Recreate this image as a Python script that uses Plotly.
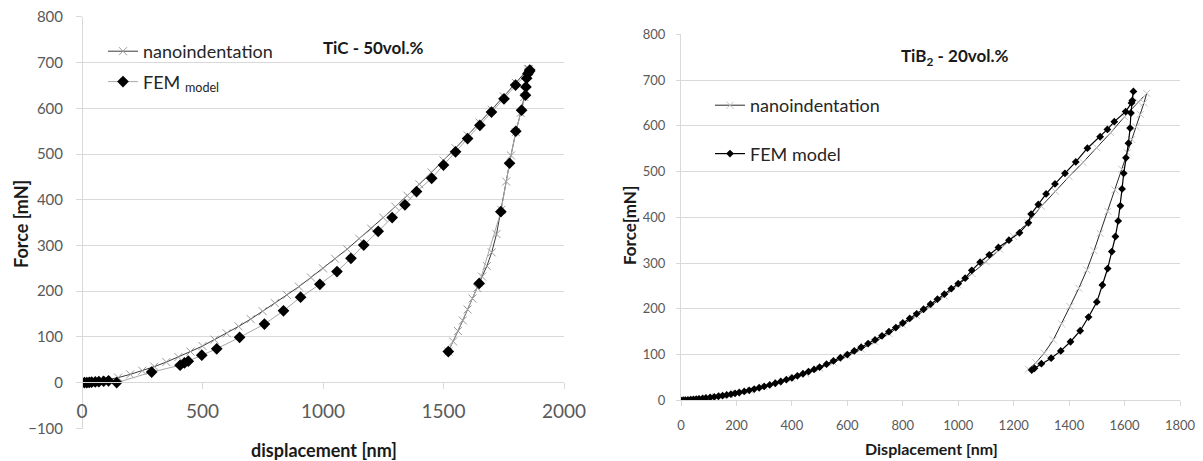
import plotly.graph_objects as go

# ---------------- TiC - 50vol.% (left) ----------------
tic_nano_x = [0, 50, 100, 150, 200, 250, 300, 350, 400, 450, 500, 550, 600, 650, 700, 750, 800,
              850, 900, 950, 1000, 1050, 1100, 1150, 1200, 1250, 1300, 1350, 1400, 1450, 1500,
              1550, 1600, 1650, 1700, 1750, 1800, 1850,
              1855, 1852, 1845, 1835, 1820, 1800, 1780, 1760, 1740, 1720, 1700, 1680, 1660,
              1640, 1620, 1600, 1580, 1560, 1540, 1520]
tic_nano_y = [0, 1.8, 5.7, 11, 18, 26, 35, 45, 56, 68, 80, 94, 108, 123, 139, 156, 174,
              192, 210, 230, 250, 271, 292, 315, 337, 361, 385, 409, 434, 460, 486,
              513, 541, 569, 597, 626, 656, 686,
              686, 680, 655, 625, 590, 548, 497, 440, 378, 325, 285, 255, 232,
              207, 184, 160, 136, 113, 90, 68]

tic_fem_x = [0, 10, 20, 30, 40, 55, 70, 90, 110, 144, 289, 407, 425, 441, 497, 559, 654, 757,
             836, 907, 987, 1058, 1116, 1169, 1229, 1287, 1340, 1388, 1451, 1500, 1550, 1600,
             1651, 1699, 1751, 1799, 1858,
             1857, 1850, 1845, 1842, 1840, 1824, 1800, 1774, 1738, 1648, 1520]
tic_fem_y = [0, 0, 0, 0.5, 1, 1.5, 2, 3, 4, 0, 23, 38, 43, 47, 60, 74, 99, 128,
             157, 187, 215, 243, 272, 301, 331, 361, 389, 418, 447, 476, 505, 534,
             563, 592, 621, 651, 684,
             681, 676, 666, 647, 629, 596, 550, 480, 374, 217, 68]

# ---------------- TiB2 - 20vol.% (right) ----------------
tib_nano_x = [0, 25, 50, 75, 100, 125, 150, 175, 200, 250, 300, 350, 400, 450, 500, 550, 600,
              650, 700, 750, 800, 850, 900, 950, 1000, 1050, 1100, 1150, 1200, 1250, 1300,
              1350, 1400, 1450, 1500, 1550, 1600, 1650, 1680,
              1670, 1657, 1642, 1626, 1610, 1590, 1565, 1540, 1512, 1490, 1464, 1435, 1403,
              1373, 1343, 1310, 1280, 1253]
tib_nano_y = [0, 0.8, 2.2, 3.8, 5.6, 7.8, 10, 12.6, 15.5, 22, 30, 38.5, 47.5, 58, 70, 83, 97,
              112, 128, 146, 165, 185, 206, 228, 252, 277, 303, 330, 358, 388, 424,
              457, 489, 520, 552, 585, 620, 652, 671,
              650, 625, 598, 570, 541, 505, 460, 413, 365, 327, 285, 245, 205,
              167, 132, 103, 82, 68]

tib_fem_x = [0, 8, 16, 25, 35, 45, 55, 65, 78, 90, 105, 120, 135, 150, 165, 180, 195, 210, 228,
             246, 264, 282, 300, 320, 340, 360, 380, 400, 420, 440, 460, 480, 500, 525, 550,
             575, 600, 625, 650, 675, 700, 725, 750, 775, 800, 825, 850, 875, 900, 925, 950,
             975, 1000, 1025, 1049, 1079, 1112, 1145, 1183, 1221, 1253, 1263, 1289, 1317,
             1349, 1385, 1424, 1466, 1512, 1538, 1563, 1604, 1625, 1632,
             1628, 1623, 1620, 1614, 1605, 1597, 1591, 1585, 1577, 1567, 1554, 1539, 1520,
             1500, 1470, 1440, 1405, 1370, 1335, 1300, 1275, 1265]
tib_fem_y = [0, 0.3, 0.6, 1, 1.5, 2, 2.6, 3.2, 4.1, 5, 6.1, 7.4, 8.8, 10.2, 11.8, 13.4, 15.2,
             17, 19.4, 21.9, 24.6, 27.4, 30.3, 33.7, 37.3, 41.1, 45, 49, 53.5, 58, 62.7, 67.5,
             72.5, 79, 86, 93, 100, 108, 116, 124, 132, 141, 150, 159, 169, 179, 189, 199,
             210, 221, 232, 244, 255, 267, 284, 302, 318, 334, 350, 366, 388, 407, 428, 451,
             473, 496, 521, 551, 576, 592, 609, 631, 650, 675,
             655, 628, 595, 562, 530, 496, 462, 425, 392, 358, 325, 288, 252,
             215, 182, 152, 128, 108, 92, 80, 70, 66]

tic_ticks_x = [0, 500, 1000, 1500, 2000]
tic_ticks_y = [-100, 0, 100, 200, 300, 400, 500, 600, 700, 800]
tib_ticks_x = [0, 200, 400, 600, 800, 1000, 1200, 1400, 1600, 1800]
tib_ticks_y = [0, 100, 200, 300, 400, 500, 600, 700, 800]

FONT = "Lato, 'Liberation Sans', Arial, sans-serif"
GRID = "#d9d9d9"
TICKC = "#595959"
OFF = 8                       # page body margin
W, H = 1203 - OFF, 461 - OFF  # figure size so the page is filled exactly


def fx(px):
    return (px - OFF) / W


def fy(py):
    return 1 - (py - OFF) / H


fig = go.Figure()

# left
fig.add_trace(go.Scatter(
    x=tic_nano_x, y=tic_nano_y, mode="lines+markers", name="nanoindentation",
    line=dict(color="#3a3a3a", width=1),
    marker=dict(symbol="x-thin-open", size=8, color="#9a9a9a", line=dict(width=1, color="#9a9a9a")),
    xaxis="x", yaxis="y", legend="legend", legendgroup="a"))
fig.add_trace(go.Scatter(
    x=tic_fem_x, y=tic_fem_y, mode="lines+markers", name="FEM <sub>model</sub>",
    line=dict(color="#a8a8a8", width=1),
    marker=dict(symbol="diamond", size=9, color="black"),
    xaxis="x", yaxis="y", legend="legend", legendgroup="b"))

# right
fig.add_trace(go.Scatter(
    x=tib_nano_x, y=tib_nano_y, mode="lines+markers", name="nanoindentation",
    line=dict(color="#2a2a2a", width=1),
    marker=dict(symbol="x-thin-open", size=7, color="#c4c4c4", line=dict(width=1, color="#c4c4c4")),
    xaxis="x2", yaxis="y2", legend="legend2", legendgroup="c"))
fig.add_trace(go.Scatter(
    x=tib_fem_x, y=tib_fem_y, mode="lines+markers", name="FEM model",
    line=dict(color="black", width=1.2),
    marker=dict(symbol="diamond", size=6, color="black"),
    xaxis="x2", yaxis="y2", legend="legend2", legendgroup="d"))

axis_common = dict(showline=True, linecolor=GRID, linewidth=1, ticks="outside", tickcolor=GRID,
                   zeroline=False, automargin=False, ticklabeloverflow="allow")


def ann(text, px, py, size, angle=0):
    return dict(text=text, x=fx(px), y=fy(py), xref="paper", yref="paper",
                xanchor="center", yanchor="middle", showarrow=False, textangle=angle,
                font=dict(size=size, color="#1a1a1a", family=FONT))


fig.update_layout(
    width=W, height=H, autosize=False,
    margin=dict(l=0, r=0, t=0, b=0, pad=0),
    paper_bgcolor="white", plot_bgcolor="white",
    font=dict(family=FONT, color=TICKC),
    xaxis=dict(domain=[fx(82), fx(564)], range=[0, 2000], tickvals=tic_ticks_x,
               anchor="free", position=fy(382.3), showgrid=False, ticklen=6,
               tickfont=dict(size=19, color=TICKC, family=FONT), ticklabelstandoff=6,
               **axis_common),
    yaxis=dict(domain=[fy(428.5), fy(16.8)], range=[-100.4, 800.4], tickvals=tic_ticks_y,
               anchor="free", position=fx(82), showgrid=True, gridcolor=GRID, ticklen=6,
               tickfont=dict(size=15, color=TICKC, family=FONT), ticklabelstandoff=10,
               **axis_common),
    xaxis2=dict(domain=[fx(681), fx(1180)], range=[0, 1800], tickvals=tib_ticks_x,
                anchor="y2", showgrid=False, ticklen=5,
                tickfont=dict(size=13, color=TICKC, family=FONT), ticklabelstandoff=8,
                **axis_common),
    yaxis2=dict(domain=[fy(400.3), fy(34.1)], range=[0, 800.4], tickvals=tib_ticks_y,
                anchor="x2", showgrid=True, gridcolor=GRID, ticklen=4,
                tickfont=dict(size=13, color=TICKC, family=FONT), ticklabelstandoff=8,
                **axis_common),
    legend=dict(x=fx(103), y=fy(33), xanchor="left", yanchor="top", bgcolor="rgba(0,0,0,0)",
                font=dict(size=18, color="#262626", family=FONT), tracegroupgap=4,
                itemwidth=30),
    legend2=dict(x=fx(710), y=fy(87), xanchor="left", yanchor="top", bgcolor="rgba(0,0,0,0)",
                 font=dict(size=18, color="#262626", family=FONT), tracegroupgap=22,
                 itemwidth=30),
    annotations=[
        ann("<b>TiC - 50vol.%</b>", 373, 47, 17),
        ann("<b>TiB<sub>2</sub> - 20vol.%</b>", 954, 57, 17),
        ann("<b>displacement [nm]</b>", 324, 450, 18),
        ann("<b>Force [mN]</b>", 21, 224, 18, -90),
        ann("<b>Displacement [nm]</b>", 932, 448, 16),
        ann("<b>Force[mN]</b>", 629, 226, 17, -90),
    ],
)

fig.write_html("out.html")
